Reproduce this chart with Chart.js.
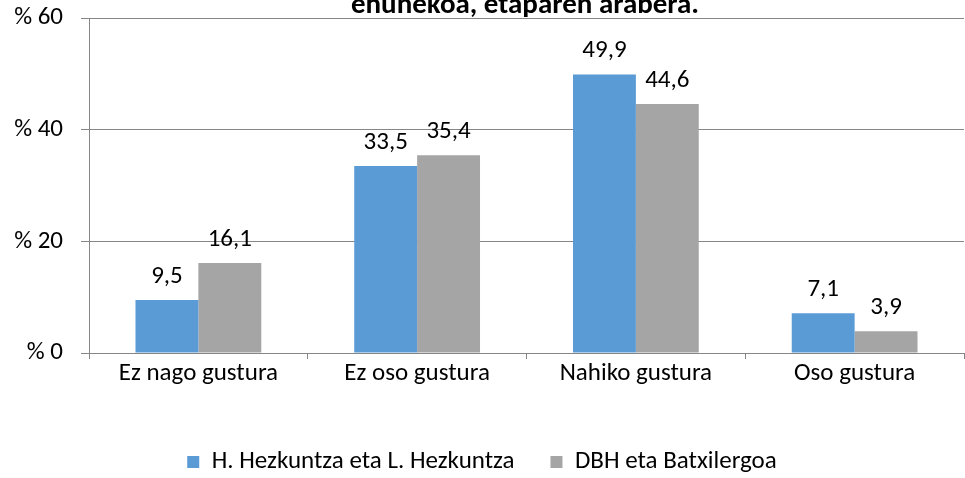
<!DOCTYPE html>
<html>
<head>
<meta charset="utf-8">
<script src="https://cdn.jsdelivr.net/npm/chart.js@4/dist/chart.umd.min.js"></script>
<style>
  html, body { margin: 0; padding: 0; background: #fff; }
  #wrap { width: 965px; height: 478px; }
</style>
</head>
<body>
<div id="wrap"><canvas id="barChart"></canvas></div>
<script>
const categories = ["Ez nago gustura", "Ez oso gustura", "Nahiko gustura", "Oso gustura"];
const seriesNames = ["H. Hezkuntza eta L. Hezkuntza", "DBH eta Batxilergoa"];
const hezkuntza = [9.5, 33.5, 49.9, 7.1];
const dbh = [16.1, 35.4, 44.6, 3.9];
const yTicks = [0, 20, 40, 60];
const titleTail = "ehunekoa, etaparen arabera.";

const FONT = "Carlito, Lato, 'Liberation Sans', sans-serif";

// values over the bars, comma as decimal mark
const valueLabels = {
    id: "valueLabels",
    afterDatasetsDraw(chart) {
        const ctx = chart.ctx;
        ctx.save();
        ctx.font = "25px " + FONT;
        ctx.fillStyle = "#000";
        ctx.textAlign = "center";
        ctx.textBaseline = "alphabetic";
        chart.data.datasets.forEach((ds, i) => {
            chart.getDatasetMeta(i).data.forEach((bar, j) => {
                ctx.fillText(ds.data[j].toFixed(1).replace(".", ","), bar.x, bar.y - 17);
            });
        });
        ctx.restore();
    }
};

// the title is cut at the top edge of the picture, only its last line shows
const clippedTitle = {
    id: "clippedTitle",
    afterDraw(chart) {
        const ctx = chart.ctx;
        ctx.save();
        ctx.font = "bold 29px " + FONT;
        ctx.fillStyle = "#000";
        ctx.textAlign = "center";
        ctx.textBaseline = "alphabetic";
        ctx.fillText(titleTail, 525, 13);
        ctx.restore();
    }
};

document.addEventListener("DOMContentLoaded", function () {
    const ctx = document.getElementById("barChart").getContext("2d");

    const data = {
        labels: categories,
        datasets: [
            { label: seriesNames[0], data: hezkuntza, backgroundColor: "#5B9BD5" },
            { label: seriesNames[1], data: dbh, backgroundColor: "#A5A5A5" }
        ]
    };

    new Chart(ctx, {
        type: "bar",
        data,
        options: {
            responsive: true,
            maintainAspectRatio: false,
            animation: false,
            datasets: { bar: { categoryPercentage: 0.575, barPercentage: 1.0 } },
            layout: { padding: { top: 18, right: 1, left: 0, bottom: -6.5 } },
            plugins: {
                legend: {
                    position: "bottom",
                    labels: {
                        font: { family: FONT, size: 25 },
                        color: "#000",
                        boxWidth: 12,
                        boxHeight: 12,
                        padding: 36
                    }
                },
                tooltip: { enabled: false }
            },
            scales: {
                x: {
                    grid: { offset: true, drawOnChartArea: false, tickLength: 6, color: "#868686" },
                    border: { color: "#868686" },
                    ticks: { font: { family: FONT, size: 25 }, color: "#000", padding: 0 },
                    afterFit(scale) { scale.height = 60.5; }
                },
                y: {
                    min: 0,
                    max: 60,
                    afterBuildTicks(scale) { scale.ticks = yTicks.map(v => ({ value: v })); },
                    grid: { color: "#868686", tickLength: 8 },
                    border: { color: "#868686" },
                    ticks: {
                        font: { family: FONT, size: 25 },
                        color: "#000",
                        padding: 18,
                        callback: v => "% " + v
                    },
                    afterFit(scale) {
                        scale.width = 89;
                        // tick padding would otherwise push the plot down
                        scale.paddingTop = 0;
                        scale.paddingBottom = 0;
                    }
                }
            }
        },
        plugins: [valueLabels, clippedTitle]
    });
});
</script>
</body>
</html>
